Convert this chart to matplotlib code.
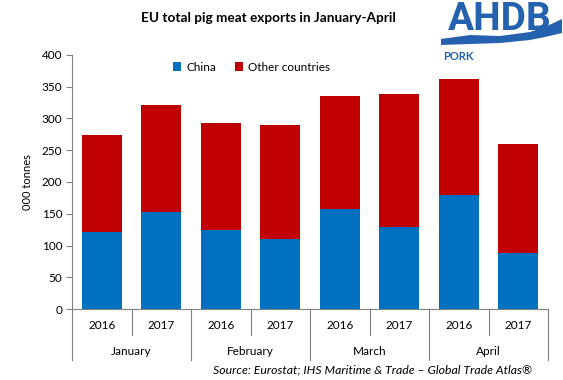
import numpy as np
import matplotlib
matplotlib.use("Agg")
import matplotlib.pyplot as plt
from matplotlib.lines import Line2D
from matplotlib.patches import Polygon

plt.rcParams["font.family"] = ["Lato", "DejaVu Sans"]

months = ["January", "February", "March", "April"]
years = ["2016", "2017"]
china = [121, 153, 124, 110, 158, 129, 180, 89]
total = [274, 321, 292, 290, 335, 339, 362, 260]
other = [t - c for t, c in zip(total, china)]

BLUE = "#0070C0"
RED = "#C00000"
LOGO = "#2461AE"

fig = plt.figure(figsize=(5.63, 3.80), dpi=100)
ax = fig.add_axes([72 / 563, 1 - 309.3 / 380, 476 / 563, 254.6 / 380])

x = np.arange(len(china))
ax.bar(x, china, width=0.67, color=BLUE, label="China", zorder=2)
ax.bar(x, other, width=0.67, bottom=china, color=RED, label="Other countries", zorder=2)

ax.set_xlim(-0.5, len(china) - 0.5)
ax.set_ylim(0, 400)
ax.set_yticks(range(0, 401, 50))
ax.tick_params(axis="y", direction="out", length=4, width=0.8, color="#808080",
               labelsize=8.5, pad=3)
ax.set_xticks([])
for side in ["top", "right"]:
    ax.spines[side].set_visible(False)
ax.spines["left"].set_color("#808080")
ax.spines["bottom"].set_color("#808080")
ax.set_ylabel("000 tonnes", fontsize=8, labelpad=6)

# two-level category axis drawn below the plot
tr = ax.get_xaxis_transform()
for i in range(len(china) + 1):
    depth = -0.20 if i % 2 == 0 else -0.10
    ax.add_line(Line2D([i - 0.5, i - 0.5], [0, depth], transform=tr,
                       color="#808080", lw=0.8, clip_on=False))
for i in range(len(china)):
    ax.text(i, -0.065, years[i % 2], transform=tr, ha="center", va="center",
            fontsize=8.5)
for m, name in enumerate(months):
    ax.text(2 * m + 0.5, -0.167, name, transform=tr, ha="center", va="center",
            fontsize=8.5)

ax.legend(loc="upper left", bbox_to_anchor=(0.19, 1.015), ncol=2, frameon=False,
          fontsize=8.5, handlelength=0.7, handleheight=0.7, handletextpad=0.4,
          columnspacing=1.6)

fig.text(268 / 563, 1 - 18 / 380, "EU total pig meat exports in January-April",
         ha="center", va="center", fontsize=9.8, fontweight="bold")
fig.text(532 / 563, 1 - 370 / 380,
         "Source: Eurostat; IHS Maritime & Trade \u2013 Global Trade Atlas\u00ae",
         ha="right", va="center", fontsize=8.8, style="italic")

# AHDB logo
fig.text(500 / 563, 1 - 30 / 380, "AHDB", ha="center", va="baseline",
         fontsize=28, color=LOGO, fontweight="bold", family="Roboto")
sx = np.linspace(441, 562, 80)
upper = np.interp(sx, [441, 470, 500, 530, 545, 562], [39, 35, 36, 32, 27, 19])
lower = np.interp(sx, [441, 470, 500, 530, 545, 562], [45, 44, 43, 40, 37, 33])
pts = np.column_stack([np.r_[sx, sx[::-1]], np.r_[lower, upper[::-1]]])
pts[:, 0] /= 563
pts[:, 1] = 1 - pts[:, 1] / 380
fig.patches.append(Polygon(pts, closed=True, transform=fig.transFigure,
                           facecolor=LOGO, edgecolor="none"))
fig.text(443 / 563, 1 - 57 / 380, "PORK", ha="left", va="center",
         fontsize=8, color=LOGO, fontweight="bold")

fig.savefig("out.png", dpi=100)
